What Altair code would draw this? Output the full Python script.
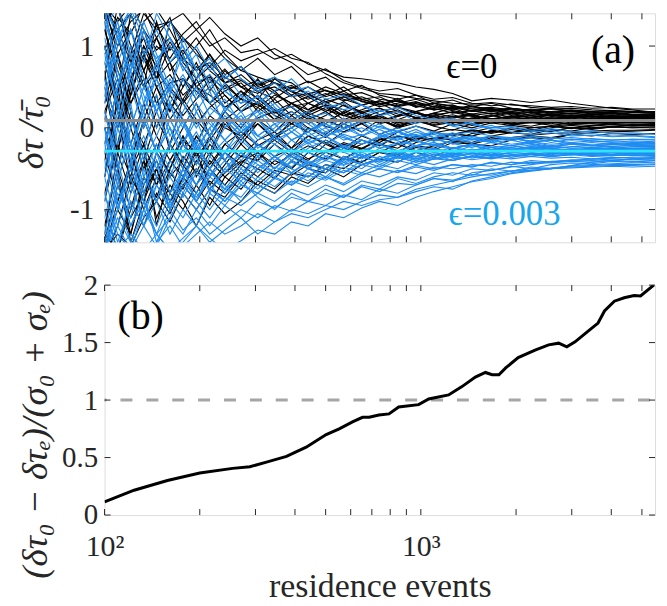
import altair as alt
import pandas as pd

# ---------------- data ----------------
X_GRID = [100, 110, 121, 133, 146, 161, 177, 195, 215, 240, 270, 305, 345, 390, 440, 500,
          570, 650, 740, 845, 965, 1100, 1260, 1450, 1670, 1930, 2230, 2580, 2990, 3470,
          4020, 4660, 5500]

BLACK_RUNS = [
    [0.95, 1.35, 1.15, 1.5, 1.25, 1.3, 1.05, 1.2, 1.0, 1.1, 0.92, 0.96, 0.84, 0.9, 0.78, 0.7, 0.62, 0.6, 0.57, 0.55, 0.5, 0.47, 0.42, 0.33, 0.36, 0.34, 0.31, 0.34, 0.3, 0.27, 0.24, 0.22, 0.19],
    [1.5, 0.9, 1.2, 0.7, 1.0, 0.85, 1.1, 0.9, 0.75, 0.95, 0.82, 0.9, 0.97, 0.85, 0.8, 0.66, 0.55, 0.48, 0.42, 0.4, 0.36, 0.33, 0.3, 0.29, 0.31, 0.28, 0.27, 0.25, 0.26, 0.24, 0.25, 0.23, 0.23],
    [-0.4, 0.3, 0.9, 1.4, 1.2, 1.3, 1.1, 0.95, 0.7, 0.55, 0.6, 0.45, 0.5, 0.38, 0.42, 0.46, 0.4, 0.35, 0.3, 0.33, 0.28, 0.3, 0.26, 0.24, 0.25, 0.22, 0.21, 0.23, 0.21, 0.2, 0.21, 0.2, 0.2],
    [1.6, 1.1, 0.6, 0.85, 0.5, 0.65, 0.4, 0.55, 0.62, 0.48, 0.58, 0.44, 0.36, 0.5, 0.42, 0.3, 0.38, 0.33, 0.26, 0.3, 0.35, 0.28, 0.24, 0.27, 0.22, 0.2, 0.23, 0.19, 0.21, 0.18, 0.2, 0.19, 0.18],
    [0.2, -0.3, 0.4, 0.9, 1.25, 0.95, 1.15, 1.3, 1.05, 0.85, 0.7, 0.62, 0.55, 0.48, 0.57, 0.45, 0.4, 0.43, 0.35, 0.32, 0.26, 0.3, 0.27, 0.23, 0.2, 0.24, 0.21, 0.19, 0.2, 0.17, 0.18, 0.16, 0.17],
    [-1.5, -0.9, -0.4, 0.1, 0.5, 0.2, 0.6, 0.45, 0.3, 0.52, 0.35, 0.25, 0.4, 0.3, 0.18, 0.28, 0.22, 0.12, 0.2, 0.25, 0.18, 0.14, 0.2, 0.15, 0.18, 0.13, 0.17, 0.15, 0.14, 0.17, 0.15, 0.16, 0.16],
    [0.6, 1.5, 1.0, 0.7, 0.3, 0.55, 0.6, 0.35, 0.5, 0.25, 0.4, 0.55, 0.42, 0.3, 0.22, 0.35, 0.27, 0.18, 0.24, 0.14, 0.2, 0.26, 0.21, 0.17, 0.2, 0.16, 0.13, 0.17, 0.15, 0.13, 0.15, 0.14, 0.15],
    [-0.8, -0.2, -0.6, 0.1, -0.3, 0.3, 0.1, -0.2, 0.15, 0.0, -0.1, 0.12, 0.2, 0.05, 0.15, 0.25, 0.1, 0.18, 0.08, 0.15, 0.2, 0.12, 0.16, 0.1, 0.14, 0.18, 0.12, 0.15, 0.13, 0.16, 0.14, 0.13, 0.14],
    [1.0, 0.4, 1.4, 0.9, 0.6, 1.0, 0.75, 0.5, 0.3, 0.45, 0.55, 0.35, 0.2, 0.3, 0.38, 0.26, 0.15, 0.22, 0.3, 0.2, 0.12, 0.18, 0.24, 0.16, 0.1, 0.15, 0.19, 0.14, 0.11, 0.14, 0.12, 0.14, 0.13],
    [-1.2, -0.5, -1.0, -0.4, -0.7, -0.2, -0.5, -0.1, -0.35, 0.05, -0.15, 0.1, -0.05, 0.15, 0.0, -0.08, 0.08, 0.15, 0.05, 0.1, 0.18, 0.1, 0.06, 0.12, 0.16, 0.1, 0.13, 0.09, 0.12, 0.14, 0.11, 0.12, 0.12],
    [0.5, -0.3, -0.8, -0.4, -1.1, -0.7, -0.9, -1.2, -0.85, -1.05, -0.9, -0.65, -0.75, -0.55, -0.6, -0.45, -0.5, -0.35, -0.28, -0.3, -0.18, -0.12, -0.15, -0.07, -0.04, -0.06, -0.02, -0.04, 0.0, -0.02, 0.01, 0.0, 0.0],
    [1.4, 0.8, 0.3, 0.6, 0.0, 0.4, 0.15, 0.35, 0.6, 0.4, 0.2, 0.3, 0.45, 0.25, 0.1, 0.2, 0.32, 0.18, 0.06, 0.14, 0.2, 0.08, 0.13, 0.17, 0.09, 0.12, 0.15, 0.1, 0.08, 0.11, 0.13, 0.1, 0.11],
    [-1.6, -1.2, -0.6, -0.9, -0.3, -0.55, -0.75, -0.4, -0.6, -0.3, -0.45, -0.2, -0.35, -0.5, -0.3, -0.15, -0.25, -0.1, -0.18, -0.05, 0.02, -0.04, 0.05, 0.0, 0.06, 0.03, 0.08, 0.05, 0.09, 0.07, 0.1, 0.09, 0.1],
    [0.3, 0.9, 0.2, -0.4, 0.1, -0.2, 0.35, 0.1, -0.1, 0.2, 0.45, 0.3, 0.1, 0.2, 0.05, 0.15, 0.28, 0.2, 0.1, 0.02, 0.08, 0.15, 0.1, 0.05, 0.11, 0.07, 0.1, 0.12, 0.08, 0.06, 0.09, 0.1, 0.09],
    [-0.2, 0.5, -0.5, -1.0, -0.6, -0.8, -0.35, -0.55, -0.2, -0.4, -0.6, -0.3, -0.15, -0.3, -0.1, -0.2, -0.05, 0.05, -0.08, 0.0, 0.1, 0.02, -0.03, 0.05, 0.1, 0.04, 0.07, 0.03, 0.06, 0.09, 0.07, 0.08, 0.08],
    [1.5, 1.2, 1.4, 0.9, 1.1, 0.7, 0.9, 0.5, 0.65, 0.3, 0.45, 0.2, 0.35, 0.15, 0.3, 0.2, 0.05, 0.15, 0.1, 0.0, 0.12, 0.06, 0.1, 0.03, 0.08, 0.05, 0.02, 0.07, 0.04, 0.06, 0.05, 0.07, 0.06],
    [-1.4, -0.7, -1.1, -0.8, -0.5, -0.9, -0.6, -0.8, -0.5, -0.7, -0.45, -0.6, -0.4, -0.5, -0.3, -0.38, -0.25, -0.3, -0.2, -0.25, -0.12, -0.16, -0.08, -0.1, -0.03, -0.06, 0.0, 0.02, -0.01, 0.03, 0.04, 0.03, 0.05],
    [0.0, -0.6, -1.3, -0.7, -0.4, -0.8, -1.0, -0.7, -0.95, -0.6, -0.75, -0.5, -0.62, -0.4, -0.5, -0.55, -0.35, -0.42, -0.3, -0.35, -0.22, -0.25, -0.15, -0.18, -0.1, -0.06, -0.08, -0.02, -0.04, 0.0, 0.02, 0.03, 0.04],
    [0.8, 0.2, -0.2, 0.3, -0.1, -0.4, -0.15, -0.3, -0.5, -0.2, -0.35, -0.15, -0.05, -0.25, -0.1, -0.18, -0.3, -0.2, -0.12, -0.2, -0.1, -0.15, -0.08, -0.03, -0.07, -0.02, -0.05, 0.0, 0.03, 0.0, 0.01, 0.03, 0.02],
    [-1.0, -1.5, -0.9, -1.2, -0.8, -1.05, -0.7, -0.9, -0.65, -0.8, -0.55, -0.7, -0.8, -0.6, -0.68, -0.5, -0.6, -0.45, -0.38, -0.42, -0.3, -0.35, -0.25, -0.2, -0.22, -0.15, -0.12, -0.14, -0.08, -0.06, -0.05, -0.04, -0.03],
    [1.2, 0.6, 0.0, -0.5, -0.2, -0.6, -0.4, -0.1, -0.3, -0.55, -0.35, -0.4, -0.2, -0.35, -0.45, -0.3, -0.38, -0.25, -0.3, -0.2, -0.28, -0.22, -0.16, -0.2, -0.12, -0.15, -0.1, -0.12, -0.08, -0.1, -0.07, -0.08, -0.07],
    [1.3, 1.5, 0.8, 1.1, 0.6, 0.8, 0.95, 0.7, 0.9, 0.65, 0.75, 0.5, 0.6, 0.55, 0.4, 0.5, 0.42, 0.35, 0.38, 0.28, 0.32, 0.25, 0.28, 0.2, 0.22, 0.17, 0.19, 0.15, 0.16, 0.13, 0.14, 0.12, 0.12],
    [-0.6, 0.4, 1.0, 0.5, 1.3, 0.8, 0.3, 0.6, 0.9, 0.55, 0.35, 0.6, 0.3, 0.4, 0.22, 0.32, 0.18, 0.28, 0.16, 0.22, 0.12, 0.18, 0.13, 0.16, 0.11, 0.14, 0.1, 0.12, 0.09, 0.11, 0.1, 0.11, 0.1],
    [1.3, 0.2, -0.7, -0.2, -1.2, -0.5, -0.1, -0.6, -0.3, 0.1, -0.2, 0.05, -0.15, 0.1, -0.05, 0.08, 0.18, 0.05, 0.12, 0.0, 0.06, 0.12, 0.03, 0.08, 0.11, 0.05, 0.08, 0.1, 0.06, 0.08, 0.07, 0.06, 0.07],
    [-1.3, -0.3, 0.5, 1.2, 0.7, 0.2, 0.5, 0.8, 0.45, 0.7, 0.5, 0.35, 0.6, 0.45, 0.3, 0.4, 0.5, 0.35, 0.28, 0.36, 0.25, 0.3, 0.22, 0.26, 0.2, 0.23, 0.18, 0.2, 0.17, 0.16, 0.18, 0.16, 0.15],
    [0.7, -0.5, -1.4, -0.9, -0.5, -1.0, -0.6, -0.3, -0.7, -0.45, -0.2, -0.4, -0.1, -0.25, 0.0, -0.12, 0.05, -0.05, 0.1, 0.02, 0.08, 0.14, 0.06, 0.11, 0.15, 0.1, 0.13, 0.16, 0.12, 0.14, 0.12, 0.14, 0.13],
    [1.45, 1.0, 1.3, 1.45, 1.1, 1.35, 0.8, 1.0, 1.2, 0.9, 0.7, 0.85, 0.65, 0.75, 0.55, 0.62, 0.45, 0.52, 0.4, 0.35, 0.4, 0.3, 0.34, 0.26, 0.3, 0.24, 0.21, 0.24, 0.2, 0.18, 0.19, 0.17, 0.17],
    [-0.9, -0.2, 0.6, 0.0, 0.4, -0.3, 0.0, 0.3, -0.1, -0.4, -0.1, -0.3, -0.5, -0.3, -0.4, -0.2, -0.3, -0.15, -0.22, -0.1, -0.16, -0.05, -0.1, -0.02, -0.06, 0.0, -0.03, 0.02, 0.0, 0.02, 0.04, 0.02, 0.03],
    [0.1, 0.9, 0.4, 1.0, 0.6, 1.3, 1.4, 1.2, 1.35, 1.15, 1.0, 1.1, 0.9, 0.8, 0.65, 0.72, 0.58, 0.5, 0.45, 0.48, 0.4, 0.35, 0.37, 0.3, 0.27, 0.29, 0.25, 0.23, 0.24, 0.22, 0.21, 0.2, 0.2],
    [-1.45, -1.0, -1.3, -0.6, -0.9, -0.5, -0.2, -0.45, -0.1, 0.2, 0.0, 0.25, 0.1, 0.3, 0.15, 0.05, 0.2, 0.1, 0.16, 0.06, 0.12, 0.08, 0.14, 0.09, 0.06, 0.1, 0.08, 0.11, 0.09, 0.08, 0.1, 0.09, 0.09],
    [0.9, 1.2, 0.8, 0.5, 0.7, 0.45, 0.3, 0.5, 0.4, 0.25, 0.35, 0.28, 0.18, 0.26, 0.3, 0.22, 0.15, 0.2, 0.24, 0.17, 0.13, 0.16, 0.19, 0.14, 0.11, 0.13, 0.15, 0.12, 0.13, 0.11, 0.12, 0.13, 0.12],
    [-0.3, -0.9, -0.5, -0.2, -0.6, -0.9, -0.7, -0.5, -0.75, -0.55, -0.4, -0.5, -0.35, -0.25, -0.38, -0.28, -0.2, -0.26, -0.15, -0.1, -0.14, -0.06, -0.02, -0.05, 0.0, 0.03, 0.0, 0.02, 0.04, 0.03, 0.05, 0.04, 0.05],
    [0.4, 0.0, 0.6, 1.0, 0.75, 1.05, 0.8, 0.6, 0.75, 0.55, 0.65, 0.48, 0.55, 0.4, 0.5, 0.38, 0.45, 0.32, 0.28, 0.34, 0.27, 0.22, 0.26, 0.21, 0.24, 0.2, 0.22, 0.18, 0.2, 0.19, 0.17, 0.19, 0.18],
    [-1.3, -1.5, -1.0, -0.6, -0.85, -0.4, -0.6, -0.25, -0.45, -0.2, -0.05, -0.22, -0.1, 0.05, -0.05, 0.1, 0.0, 0.08, 0.14, 0.06, 0.1, 0.04, 0.09, 0.12, 0.08, 0.11, 0.09, 0.12, 0.1, 0.09, 0.11, 0.1, 0.1],
    [1.5, 1.3, 1.5, 1.2, 0.95, 1.1, 0.85, 0.7, 0.8, 0.62, 0.5, 0.58, 0.45, 0.52, 0.4, 0.32, 0.38, 0.28, 0.33, 0.25, 0.2, 0.24, 0.18, 0.21, 0.17, 0.19, 0.15, 0.17, 0.14, 0.15, 0.13, 0.15, 0.14],
    [0.2, 0.6, 0.1, -0.2, 0.2, 0.5, 0.3, 0.05, 0.25, 0.4, 0.2, 0.32, 0.15, 0.05, 0.18, 0.1, 0.0, 0.08, 0.14, 0.04, 0.09, 0.13, 0.07, 0.05, 0.09, 0.06, 0.1, 0.07, 0.08, 0.06, 0.09, 0.08, 0.08],
    [1.0, 0.3, -0.3, -0.8, -0.5, -0.2, -0.45, -0.7, -0.4, -0.6, -0.42, -0.3, -0.45, -0.33, -0.22, -0.3, -0.18, -0.25, -0.14, -0.2, -0.1, -0.14, -0.07, -0.1, -0.04, -0.06, -0.02, -0.04, 0.0, -0.01, 0.01, 0.0, 0.01],
    [-0.6, 0.1, 0.8, 1.3, 1.45, 1.2, 0.9, 1.1, 0.85, 0.6, 0.75, 0.52, 0.62, 0.45, 0.38, 0.46, 0.35, 0.28, 0.33, 0.26, 0.3, 0.22, 0.25, 0.2, 0.22, 0.18, 0.2, 0.17, 0.18, 0.16, 0.17, 0.15, 0.16],
    [0.6, 0.0, 0.4, 0.9, 0.5, 0.1, 0.35, 0.6, 0.3, 0.1, 0.25, 0.4, 0.22, 0.1, 0.2, 0.28, 0.15, 0.08, 0.16, 0.2, 0.12, 0.07, 0.12, 0.15, 0.1, 0.08, 0.12, 0.1, 0.13, 0.11, 0.1, 0.12, 0.11],
    [-1.5, -1.3, -1.45, -1.1, -0.9, -1.15, -0.8, -1.0, -0.75, -0.85, -0.6, -0.7, -0.52, -0.58, -0.45, -0.5, -0.38, -0.42, -0.3, -0.33, -0.24, -0.27, -0.18, -0.2, -0.14, -0.12, -0.09, -0.07, -0.06, -0.04, -0.03, -0.03, -0.02],
    [1.2, 0.7, 0.3, 0.7, 1.1, 0.8, 0.5, 0.75, 0.55, 0.72, 0.5, 0.42, 0.55, 0.44, 0.35, 0.42, 0.33, 0.38, 0.3, 0.27, 0.31, 0.26, 0.23, 0.26, 0.22, 0.24, 0.21, 0.2, 0.22, 0.2, 0.19, 0.2, 0.19],
    [0.0, -0.5, 0.2, -0.3, -0.7, -0.4, -0.1, -0.35, -0.15, 0.1, -0.1, 0.05, -0.12, 0.0, 0.12, 0.02, -0.05, 0.06, 0.1, 0.02, 0.08, 0.03, 0.07, 0.04, 0.08, 0.05, 0.06, 0.07, 0.05, 0.06, 0.07, 0.06, 0.06],
]

BLUE_RUNS = [
    [1.5, 1.1, 1.4, 0.9, 1.2, 0.8, 1.0, 0.7, 0.85, 0.6, 0.75, 0.55, 0.62, 0.45, 0.5, 0.35, 0.4, 0.28, 0.2, 0.25, 0.15, 0.1, 0.12, 0.04, 0.0, 0.02, -0.03, -0.01, -0.05, -0.04, -0.07, -0.06, -0.08],
    [0.4, 1.0, 1.5, 1.2, 0.8, 1.1, 0.7, 0.9, 0.5, 0.65, 0.4, 0.3, 0.45, 0.6, 0.4, 0.25, 0.3, 0.15, 0.22, 0.1, 0.05, 0.12, 0.02, -0.02, 0.03, -0.05, -0.08, -0.06, -0.1, -0.09, -0.11, -0.1, -0.12],
    [-1.5, -0.7, 0.0, 0.5, 0.2, 0.6, 0.3, 0.0, 0.25, 0.1, -0.1, 0.15, 0.3, 0.1, -0.05, 0.08, 0.0, -0.1, 0.02, -0.05, -0.12, -0.06, -0.1, -0.15, -0.1, -0.13, -0.16, -0.12, -0.15, -0.13, -0.15, -0.14, -0.14],
    [0.9, 0.3, -0.3, 0.2, 0.7, 1.3, 1.0, 0.6, 0.8, 0.45, 0.3, 0.5, 0.25, 0.1, 0.2, 0.0, 0.12, -0.05, 0.05, -0.1, -0.02, -0.12, -0.06, -0.14, -0.1, -0.15, -0.12, -0.18, -0.14, -0.16, -0.18, -0.16, -0.17],
    [-0.5, 0.2, 0.8, 0.4, 0.0, 0.3, -0.2, 0.1, -0.3, 0.0, 0.2, -0.1, 0.05, -0.15, -0.05, 0.05, -0.1, -0.2, -0.12, -0.05, -0.15, -0.22, -0.16, -0.12, -0.18, -0.22, -0.17, -0.2, -0.18, -0.21, -0.19, -0.2, -0.19],
    [1.4, 0.7, 0.2, -0.4, -0.1, 0.3, 0.05, -0.3, -0.1, 0.25, 0.1, -0.15, 0.0, 0.2, 0.05, -0.1, -0.02, 0.08, -0.08, -0.15, -0.05, -0.12, -0.2, -0.14, -0.18, -0.15, -0.2, -0.24, -0.2, -0.22, -0.2, -0.22, -0.21],
    [-1.0, -1.5, -0.8, -0.3, -0.6, -0.2, -0.5, -0.7, -0.35, -0.55, -0.3, -0.45, -0.6, -0.4, -0.5, -0.35, -0.45, -0.3, -0.38, -0.28, -0.35, -0.25, -0.3, -0.22, -0.27, -0.24, -0.21, -0.25, -0.23, -0.22, -0.24, -0.23, -0.23],
    [0.0, -0.6, -1.2, -0.8, -1.4, -1.0, -0.7, -0.9, -0.5, -0.75, -0.6, -0.4, -0.55, -0.35, -0.48, -0.6, -0.42, -0.5, -0.35, -0.42, -0.3, -0.38, -0.32, -0.26, -0.3, -0.27, -0.23, -0.26, -0.28, -0.24, -0.26, -0.25, -0.25],
    [1.2, 1.5, 0.9, 0.5, 0.8, 0.3, 0.6, 0.2, 0.45, 0.0, 0.15, -0.1, 0.05, -0.15, -0.05, -0.2, -0.08, -0.15, -0.25, -0.18, -0.28, -0.2, -0.25, -0.3, -0.24, -0.28, -0.25, -0.28, -0.26, -0.27, -0.25, -0.27, -0.26],
    [-1.4, -0.8, -1.1, -0.5, -0.9, -0.4, -0.65, -0.2, -0.5, -0.3, -0.1, -0.35, -0.2, -0.4, -0.25, -0.15, -0.3, -0.38, -0.25, -0.32, -0.22, -0.3, -0.34, -0.28, -0.24, -0.3, -0.27, -0.25, -0.28, -0.26, -0.28, -0.27, -0.27],
    [0.6, 0.0, -0.5, 0.1, -0.3, -0.6, -0.2, -0.45, -0.15, -0.4, -0.6, -0.35, -0.5, -0.3, -0.42, -0.55, -0.4, -0.32, -0.45, -0.35, -0.4, -0.32, -0.36, -0.3, -0.34, -0.31, -0.28, -0.3, -0.27, -0.29, -0.28, -0.29, -0.28],
    [-0.3, 0.5, 1.0, 0.6, 0.2, 0.5, 0.1, -0.2, 0.1, -0.15, 0.05, -0.25, -0.1, -0.3, -0.15, -0.25, -0.38, -0.28, -0.2, -0.3, -0.36, -0.27, -0.32, -0.28, -0.33, -0.3, -0.27, -0.31, -0.29, -0.3, -0.28, -0.3, -0.29],
    [-1.5, -1.2, -1.5, -1.0, -1.3, -0.9, -1.1, -0.8, -1.0, -0.75, -0.85, -0.6, -0.72, -0.55, -0.65, -0.5, -0.55, -0.45, -0.5, -0.4, -0.45, -0.38, -0.4, -0.35, -0.37, -0.33, -0.35, -0.32, -0.31, -0.32, -0.3, -0.31, -0.3],
    [0.2, -0.4, -1.0, -0.6, -0.9, -1.3, -1.0, -1.2, -0.8, -0.95, -0.7, -0.8, -0.6, -0.7, -0.55, -0.62, -0.48, -0.55, -0.45, -0.5, -0.4, -0.45, -0.38, -0.35, -0.38, -0.34, -0.32, -0.35, -0.33, -0.31, -0.32, -0.3, -0.31],
    [1.1, 0.5, 0.9, 0.3, 0.6, 0.1, -0.2, 0.2, -0.1, -0.3, 0.0, -0.2, -0.35, -0.15, -0.3, -0.4, -0.25, -0.35, -0.42, -0.3, -0.38, -0.32, -0.4, -0.35, -0.3, -0.36, -0.33, -0.35, -0.32, -0.34, -0.33, -0.34, -0.33],
    [-0.8, -1.4, -0.9, -1.2, -0.7, -1.0, -1.25, -1.1, -1.3, -1.15, -1.0, -1.1, -0.95, -1.02, -0.9, -0.95, -0.82, -0.88, -0.75, -0.8, -0.7, -0.62, -0.66, -0.55, -0.52, -0.48, -0.45, -0.42, -0.4, -0.38, -0.37, -0.36, -0.35],
    [-0.2, -0.9, -1.4, -1.5, -1.3, -1.5, -1.35, -1.2, -1.4, -1.25, -1.1, -1.3, -1.15, -1.05, -1.1, -1.0, -0.9, -0.95, -0.88, -0.85, -0.78, -0.72, -0.75, -0.65, -0.6, -0.55, -0.52, -0.5, -0.46, -0.42, -0.4, -0.38, -0.36],
    [0.8, 1.3, 0.6, 0.2, -0.3, 0.0, -0.4, -0.7, -0.5, -0.8, -0.6, -0.75, -0.55, -0.68, -0.5, -0.6, -0.7, -0.58, -0.5, -0.55, -0.48, -0.52, -0.45, -0.48, -0.42, -0.45, -0.4, -0.42, -0.39, -0.4, -0.38, -0.39, -0.38],
    [-1.5, -1.0, -0.5, -0.9, -1.2, -0.8, -0.6, -0.9, -1.1, -0.85, -0.95, -0.8, -0.9, -0.75, -0.82, -0.7, -0.78, -0.65, -0.7, -0.6, -0.64, -0.55, -0.58, -0.5, -0.52, -0.47, -0.5, -0.45, -0.43, -0.44, -0.41, -0.42, -0.4],
    [0.5, -0.2, 0.3, -0.6, -0.2, -0.5, -0.8, -0.5, -0.7, -0.9, -0.65, -0.85, -1.0, -0.8, -0.9, -0.75, -0.85, -0.7, -0.75, -0.62, -0.68, -0.6, -0.55, -0.58, -0.5, -0.53, -0.48, -0.5, -0.46, -0.45, -0.44, -0.43, -0.42],
    [-1.2, -1.5, -1.3, -1.5, -1.4, -1.2, -1.45, -1.3, -1.15, -1.3, -1.2, -1.05, -1.15, -1.0, -1.05, -0.95, -1.0, -0.9, -0.82, -0.85, -0.75, -0.7, -0.65, -0.6, -0.56, -0.53, -0.5, -0.49, -0.47, -0.46, -0.45, -0.45, -0.44],
    [1.0, 0.2, -0.4, -0.9, -1.3, -1.5, -1.4, -1.2, -1.35, -1.5, -1.38, -1.25, -1.3, -1.15, -1.2, -1.05, -1.1, -0.98, -0.9, -0.95, -0.85, -0.78, -0.72, -0.66, -0.62, -0.56, -0.53, -0.5, -0.49, -0.48, -0.47, -0.48, -0.47],
    [-0.9, 0.0, 0.7, 1.3, 0.9, 0.5, 0.9, 0.4, 0.6, 0.2, 0.4, 0.1, 0.25, 0.0, 0.1, -0.05, 0.05, -0.1, -0.02, -0.12, -0.08, -0.16, -0.12, -0.18, -0.15, -0.2, -0.17, -0.22, -0.19, -0.21, -0.23, -0.21, -0.22],
    [1.5, 0.6, -0.2, -0.8, -0.4, -1.0, -0.5, -0.2, -0.6, -0.3, -0.5, -0.2, -0.4, -0.25, -0.45, -0.3, -0.22, -0.35, -0.28, -0.38, -0.3, -0.25, -0.33, -0.28, -0.32, -0.27, -0.3, -0.33, -0.29, -0.31, -0.3, -0.29, -0.3],
    [0.3, 1.2, 0.5, 0.0, 0.4, -0.1, 0.2, 0.5, 0.15, 0.35, 0.05, 0.2, -0.05, 0.1, -0.1, 0.0, -0.15, -0.08, -0.2, -0.12, -0.22, -0.18, -0.25, -0.2, -0.24, -0.27, -0.23, -0.26, -0.28, -0.25, -0.27, -0.26, -0.27],
    [-1.3, -0.6, -0.2, -0.7, -0.3, -0.8, -0.5, -0.9, -0.6, -0.4, -0.7, -0.5, -0.35, -0.55, -0.4, -0.5, -0.35, -0.45, -0.38, -0.3, -0.4, -0.35, -0.3, -0.37, -0.33, -0.36, -0.32, -0.35, -0.33, -0.35, -0.34, -0.33, -0.34],
    [0.0, -1.0, -0.4, 0.3, 0.8, 0.4, 1.1, 0.7, 0.3, 0.55, 0.2, 0.4, 0.15, -0.05, 0.1, -0.1, 0.0, 0.08, -0.08, 0.0, -0.1, -0.05, -0.15, -0.1, -0.17, -0.12, -0.18, -0.15, -0.2, -0.18, -0.2, -0.19, -0.2],
    [-0.6, -1.2, -0.7, -1.1, -0.6, -0.9, -0.5, -0.8, -0.55, -0.7, -0.9, -0.7, -0.8, -0.65, -0.72, -0.6, -0.68, -0.55, -0.6, -0.52, -0.56, -0.48, -0.5, -0.45, -0.47, -0.42, -0.44, -0.41, -0.4, -0.39, -0.4, -0.38, -0.38],
    [1.3, 0.8, 1.2, 0.6, 0.2, -0.2, 0.1, -0.3, 0.0, -0.4, -0.15, -0.35, -0.1, -0.3, -0.18, -0.35, -0.22, -0.3, -0.2, -0.28, -0.22, -0.3, -0.24, -0.28, -0.22, -0.26, -0.24, -0.22, -0.25, -0.24, -0.26, -0.25, -0.25],
    [-1.45, -1.0, -0.4, -0.1, -0.5, -0.2, -0.6, -0.35, -0.8, -0.5, -0.3, -0.55, -0.35, -0.5, -0.6, -0.45, -0.55, -0.4, -0.48, -0.36, -0.42, -0.36, -0.4, -0.34, -0.37, -0.33, -0.35, -0.31, -0.33, -0.32, -0.33, -0.31, -0.32],
    [0.8, 0.3, -0.2, 0.2, 0.6, 0.25, 0.0, 0.3, 0.05, -0.15, 0.05, -0.1, -0.2, -0.05, -0.18, -0.1, -0.22, -0.15, -0.25, -0.2, -0.16, -0.22, -0.26, -0.2, -0.24, -0.22, -0.26, -0.23, -0.25, -0.24, -0.23, -0.25, -0.24],
    [-0.4, -1.0, -0.6, -1.2, -0.9, -0.6, -0.85, -0.55, -0.75, -0.5, -0.65, -0.45, -0.55, -0.42, -0.5, -0.4, -0.46, -0.36, -0.42, -0.34, -0.38, -0.33, -0.36, -0.32, -0.35, -0.33, -0.31, -0.34, -0.32, -0.33, -0.34, -0.32, -0.33],
    [1.45, 1.2, 1.45, 1.1, 0.85, 1.0, 0.75, 0.55, 0.65, 0.45, 0.3, 0.38, 0.2, 0.26, 0.12, 0.18, 0.05, 0.1, 0.0, -0.04, 0.02, -0.06, -0.08, -0.05, -0.1, -0.12, -0.1, -0.13, -0.12, -0.14, -0.15, -0.14, -0.15],
    [0.0, -0.7, -1.2, -0.9, -1.3, -1.1, -0.8, -1.0, -0.75, -0.9, -0.7, -0.8, -0.62, -0.7, -0.58, -0.64, -0.52, -0.58, -0.5, -0.54, -0.46, -0.5, -0.45, -0.47, -0.43, -0.45, -0.42, -0.43, -0.41, -0.42, -0.4, -0.41, -0.4],
    [-1.1, -0.5, 0.1, -0.3, 0.3, 0.0, -0.3, -0.05, -0.35, -0.15, -0.4, -0.2, -0.35, -0.48, -0.3, -0.4, -0.25, -0.35, -0.28, -0.36, -0.3, -0.26, -0.32, -0.27, -0.3, -0.26, -0.29, -0.27, -0.3, -0.28, -0.27, -0.29, -0.28],
    [0.5, 1.1, 0.7, 1.2, 0.8, 0.45, 0.65, 0.35, 0.5, 0.25, 0.1, 0.22, 0.05, 0.12, -0.02, 0.05, -0.06, 0.0, -0.1, -0.04, -0.12, -0.08, -0.14, -0.1, -0.15, -0.12, -0.17, -0.15, -0.18, -0.16, -0.17, -0.18, -0.18],
    [-1.5, -1.1, -1.4, -1.0, -0.7, -0.95, -0.65, -0.85, -0.6, -0.75, -0.5, -0.65, -0.48, -0.55, -0.42, -0.5, -0.38, -0.45, -0.4, -0.36, -0.42, -0.38, -0.35, -0.39, -0.36, -0.38, -0.35, -0.37, -0.36, -0.38, -0.36, -0.37, -0.37],
    [0.2, -0.5, 0.0, 0.5, 0.2, -0.2, 0.1, -0.25, 0.0, 0.2, -0.05, 0.1, -0.15, -0.05, -0.2, -0.1, -0.25, -0.15, -0.2, -0.28, -0.22, -0.18, -0.25, -0.21, -0.27, -0.24, -0.28, -0.25, -0.27, -0.26, -0.25, -0.27, -0.26],
    [-0.8, -1.3, -1.5, -1.2, -1.45, -1.1, -1.3, -1.0, -1.2, -0.95, -1.1, -0.9, -0.98, -0.85, -0.9, -0.8, -0.85, -0.72, -0.78, -0.68, -0.7, -0.62, -0.64, -0.57, -0.58, -0.53, -0.52, -0.5, -0.48, -0.47, -0.46, -0.46, -0.45],
    [-0.2, 0.5, 1.2, 0.8, 1.4, 1.1, 0.8, 1.0, 0.7, 0.85, 0.6, 0.45, 0.55, 0.38, 0.45, 0.3, 0.22, 0.28, 0.15, 0.2, 0.08, 0.12, 0.03, 0.06, -0.02, 0.0, -0.05, -0.03, -0.08, -0.07, -0.1, -0.09, -0.11],
    [1.0, 0.4, 0.7, 0.1, -0.3, 0.0, -0.4, -0.15, -0.5, -0.3, -0.55, -0.35, -0.5, -0.32, -0.45, -0.35, -0.42, -0.33, -0.38, -0.32, -0.36, -0.3, -0.35, -0.31, -0.34, -0.3, -0.32, -0.3, -0.32, -0.31, -0.3, -0.32, -0.31],
    [-0.6, 0.1, -0.4, -0.8, -0.3, 0.1, -0.2, 0.2, -0.1, 0.15, -0.05, 0.1, -0.1, 0.0, -0.15, -0.05, -0.12, -0.2, -0.1, -0.16, -0.22, -0.14, -0.19, -0.24, -0.18, -0.22, -0.19, -0.23, -0.2, -0.22, -0.21, -0.2, -0.21],
]

MEAN_EPS0 = [0.09]
MEAN_EPS3 = [-0.285]

B_X = [100, 124, 158, 200, 254, 288, 325, 376, 434, 502, 552, 608, 654, 686, 737, 793, 851,
       984, 1059, 1224, 1349, 1487, 1600, 1680, 1765, 1855, 2031, 2297, 2535, 2727, 2894,
       3073, 3380, 3633, 3807, 4090, 4395, 4722, 4950, 5450]
B_Y = [0.115, 0.216, 0.30, 0.366, 0.406, 0.42, 0.46, 0.51, 0.59, 0.70, 0.75, 0.81, 0.85, 0.85,
       0.87, 0.88, 0.94, 0.96, 1.01, 1.045, 1.117, 1.2, 1.24, 1.22, 1.22, 1.28, 1.37, 1.435,
       1.48, 1.495, 1.463, 1.506, 1.6, 1.67, 1.775, 1.86, 1.89, 1.91, 1.905, 2.0]
THRESHOLD = [1.0]

X_TICKS = [100, 200, 300, 400, 500, 600, 700, 800, 900, 1000, 2000, 3000, 4000, 5000]
X_LABEL_TICKS = [100, 1000]
Y_TICKS_A = [-1, 0, 1]
Y_TICKS_B = [0, 0.5, 1, 1.5, 2]
X_DOMAIN = [100, 5500]
Y_DOMAIN_A = [-1.4, 1.4]
Y_DOMAIN_B = [0, 2]

ANNOT_A = {"x": [4050], "y": [0.94], "label": ["(a)"]}
ANNOT_EPS0 = {"x": [1450], "y": [0.745], "label": ["\u03f5=0"]}
ANNOT_EPS3 = {"x": [1840], "y": [-1.05], "label": ["\u03f5=0.003"]}
ANNOT_B = {"x": [130], "y": [1.72], "label": ["(b)"]}

# ---------------- style ----------------
FONT = "Liberation Serif, Times New Roman, DejaVu Serif, serif"
INK = "#262626"
BLUE = "#1e8cf0"
LIGHTBLUE = "#17a6ee"
CYAN = "#2ee4f6"
W, H1, H2 = 553, 230, 231
TICK = 6


def runs_df(runs, group):
    rows = []
    for k, r in enumerate(runs):
        for xv, yv in zip(X_GRID, r):
            rows.append({"x": xv, "y": yv, "run": f"{group}{k:02d}"})
    return pd.DataFrame(rows)


xs = alt.Scale(type="log", domain=X_DOMAIN, nice=False)
ysa = alt.Scale(domain=Y_DOMAIN_A, nice=False, zero=False)
ysb = alt.Scale(domain=Y_DOMAIN_B, nice=False, zero=False)

x_top = alt.X("x:Q", scale=xs, axis=None)
x_bot = alt.X("x:Q", scale=xs, axis=alt.Axis(
    values=X_LABEL_TICKS, ticks=False, domain=False, grid=False, labelFlush=False,
    labelExpr="datum.value == 100 ? '10\u00b2' : '10\u00b3'",
    labelFont=FONT, labelFontSize=30, labelColor=INK, labelPadding=17,
    title="residence events", titleFont=FONT, titleFontSize=34,
    titleFontWeight="normal", titleColor=INK, titlePadding=8))

y_a = alt.Y("y:Q", scale=ysa, axis=alt.Axis(
    values=Y_TICKS_A, ticks=False, domain=False, grid=False,
    labelExpr="replace(datum.label, '\u2212', '-')",
    labelFont=FONT, labelFontSize=29, labelColor=INK, labelPadding=11,
    title="\u03b4\u03c4 /\u03c4\u0304\u2080", titleFont=FONT, titleFontSize=36,
    titleFontStyle="italic", titleFontWeight="normal", titleColor=INK,
    titleX=-54, titleY=119))

y_b = alt.Y("y:Q", scale=ysb, axis=alt.Axis(
    values=Y_TICKS_B, ticks=False, domain=False, grid=False, format="~g",
    labelFont=FONT, labelFontSize=29, labelColor=INK, labelPadding=7,
    title="(\u03b4\u03c4\u2080 \u2212 \u03b4\u03c4\u2091)/(\u03c3\u2080 + \u03c3\u2091)",
    titleFont=FONT, titleFontSize=37, titleFontStyle="italic",
    titleFontWeight="normal", titleColor=INK, titleX=-50, titleY=150))


def frame_ticks(xenc, yenc, yticks, h):
    xt = pd.DataFrame({"x": X_TICKS})
    yt = pd.DataFrame({"y": yticks})
    rule = dict(color=INK, strokeWidth=1)
    return [
        alt.Chart(xt).mark_rule(**rule).encode(x=xenc, y=alt.value(h), y2=alt.value(h - TICK)),
        alt.Chart(xt).mark_rule(**rule).encode(x=xenc, y=alt.value(0), y2=alt.value(TICK)),
        alt.Chart(yt).mark_rule(**rule).encode(y=yenc, x=alt.value(0), x2=alt.value(TICK)),
        alt.Chart(yt).mark_rule(**rule).encode(y=yenc, x=alt.value(W), x2=alt.value(W - TICK)),
    ]


def text_layer(d, xenc, yenc, color, size):
    return alt.Chart(pd.DataFrame(d)).mark_text(
        font=FONT, fontSize=size, color=color, align="center", baseline="middle"
    ).encode(x=xenc, y=yenc, text="label:N")


# ---------------- panel (a) ----------------
black = alt.Chart(runs_df(BLACK_RUNS, "k")).mark_line(
    color="black", strokeWidth=1.1, clip=True
).encode(x=x_top, y=y_a, detail="run:N")
blue = alt.Chart(runs_df(BLUE_RUNS, "b")).mark_line(
    color=BLUE, strokeWidth=1.1, clip=True
).encode(x=x_top, y=y_a, detail="run:N")
mean0 = alt.Chart(pd.DataFrame({"y": MEAN_EPS0})).mark_rule(
    color="#8a8a8a", strokeWidth=3).encode(y=y_a)
mean3 = alt.Chart(pd.DataFrame({"y": MEAN_EPS3})).mark_rule(
    color=CYAN, strokeWidth=3).encode(y=y_a)

panel_a = alt.layer(
    black, blue, mean0, mean3,
    *frame_ticks(x_top, y_a, Y_TICKS_A, H1),
    text_layer(ANNOT_A, x_top, y_a, "black", 40),
    text_layer(ANNOT_EPS0, x_top, y_a, "black", 35),
    text_layer(ANNOT_EPS3, x_top, y_a, LIGHTBLUE, 35),
).properties(width=W, height=H1)

# ---------------- panel (b) ----------------
bdf = pd.DataFrame({"x": B_X, "y": B_Y})
curve = alt.Chart(bdf).mark_line(color="black", strokeWidth=3, clip=True).encode(x=x_bot, y=y_b)
thr = alt.Chart(pd.DataFrame({"y": THRESHOLD})).mark_rule(
    color="#a6a6a6", strokeWidth=3, strokeDash=[12, 14], strokeDashOffset=-5).encode(y=y_b)

panel_b = alt.layer(
    thr, curve,
    *frame_ticks(x_bot, y_b, Y_TICKS_B, H2),
    text_layer(ANNOT_B, x_bot, y_b, "black", 40),
).properties(width=W, height=H2)

chart = alt.vconcat(panel_a, panel_b, spacing=43, bounds="flush").properties(
    padding={"left": 5, "top": 3, "right": 2, "bottom": 0}
).configure_view(stroke=INK, strokeWidth=1.2).configure(background="white")

chart.save("out.html", embed_options={"renderer": "svg", "actions": False})
